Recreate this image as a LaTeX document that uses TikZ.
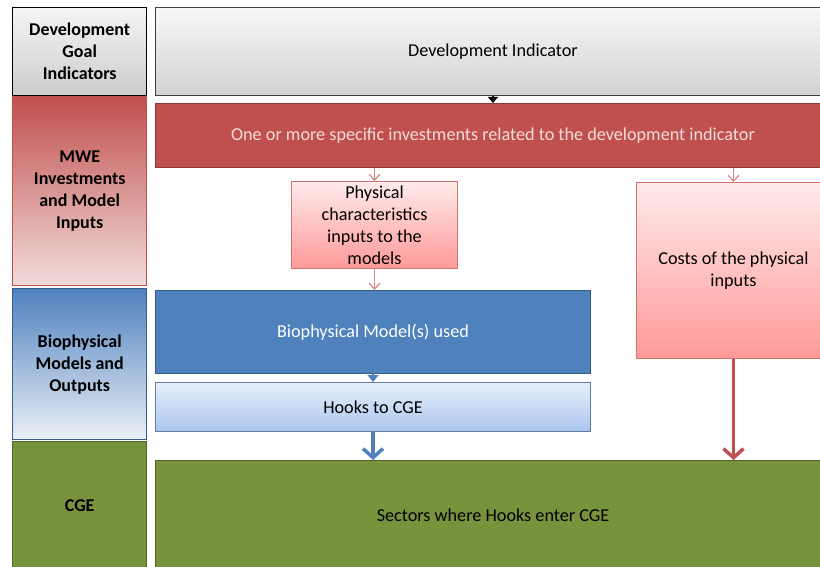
\documentclass[tikz,border=0pt]{standalone}
\usepackage{fontspec}
\setmainfont{Carlito}
\usetikzlibrary{arrows.meta, positioning}

\definecolor{dkred}{HTML}{C0504D}
\definecolor{dkredline}{HTML}{943634}
\definecolor{ltpink}{HTML}{F2DCDB}
\definecolor{midblue}{HTML}{4F81BD}
\definecolor{blueline}{HTML}{385D8A}
\definecolor{ltblue}{HTML}{DCE6F2}
\definecolor{hooktop}{HTML}{E8EFFB}
\definecolor{hookbot}{HTML}{A9C6EE}
\definecolor{olive}{HTML}{77933C}
\definecolor{oliveline}{HTML}{4F6228}
\definecolor{greyline}{HTML}{404040}

\begin{document}
\begin{tikzpicture}[x=1pt, y=-1pt, font=\fontsize{18.2}{22}\selectfont,
  band/.style = {draw, line width=1.4pt, align=center, font=\fontsize{18}{22}\selectfont\bfseries,
                 anchor=north west, minimum width=134pt, inner sep=2pt},
  box/.style  = {draw, line width=1pt, align=center, anchor=north west, inner sep=2pt},
  thin/.style = {draw=dkred!70, line width=1.2pt, -{Straight Barb[length=6pt, width=11pt]}},
  thick/.style = {line width=4pt, -{Straight Barb[length=9pt, width=20pt, line width=3.5pt]}}]
  \useasboundingbox (0,0) rectangle (820,567);

  % left column
  \node[band, minimum height=88pt, top color=gray!8, bottom color=gray!40, draw=black] (goal) at (12,7)
    {Development\\Goal\\Indicators};
  \node[band, minimum height=189pt, top color=dkred, bottom color=ltpink, draw=dkred] (mwe) at (12,96)
    {MWE\\Investments\\and Model\\Inputs};
  \node[band, minimum height=151pt, top color=midblue, bottom color=ltblue!60, draw=blueline] (bio) at (12,288)
    {Biophysical\\Models and\\Outputs};
  \node[band, minimum height=128pt, fill=olive, draw=oliveline] (cge) at (12,441) {CGE};

  % right side
  \node[box, minimum width=675pt, minimum height=88pt, top color=gray!6, bottom color=gray!35,
        draw=greyline] (devind) at (155,7) {Development Indicator};
  \node[box, minimum width=675pt, minimum height=64pt, fill=dkred, draw=dkredline, text=ltpink]
    (invest) at (155,103) {One or more specific investments related to the development indicator};
  \node[box, minimum width=166pt, minimum height=87pt, top color=red!8, bottom color=red!40,
        draw=dkred!80] (physical) at (291,181) {Physical\\characteristics\\inputs to the\\models};
  \node[box, minimum width=194pt, minimum height=176pt, top color=red!8, bottom color=red!40,
        draw=dkred!80] (costs) at (636,182) {Costs of the physical\\inputs};
  \node[box, minimum width=435pt, minimum height=83pt, fill=midblue, draw=blueline, text=white]
    (biomodel) at (155,290) {Biophysical Model(s) used};
  \node[box, minimum width=435pt, minimum height=49pt, top color=hooktop, bottom color=hookbot,
        draw=blueline!80] (hooks) at (155,382) {Hooks to CGE};
  \node[box, minimum width=675pt, minimum height=110pt, fill=olive, draw=oliveline]
    (sectors) at (155,460) {Sectors where Hooks enter CGE};

  % connectors
  \draw[line width=1.2pt, -{Triangle[length=6pt, width=10pt]}] (devind.south) -- (invest.north);
  \draw[thin] (invest.south -| physical.north) -- (physical.north);
  \draw[thin] (invest.south -| costs.north) -- (costs.north);
  \draw[thin] (physical.south) -- (physical.south |- biomodel.north);
  \draw[midblue, line width=1.5pt, -{Triangle[length=7pt, width=11pt]}] (biomodel.south) -- (hooks.north);
  \draw[thick, midblue] (hooks.south) -- (hooks.south |- sectors.north);
  \draw[thick, dkred, line width=3.5pt] (costs.south) -- (costs.south |- sectors.north);
\end{tikzpicture}
\end{document}
